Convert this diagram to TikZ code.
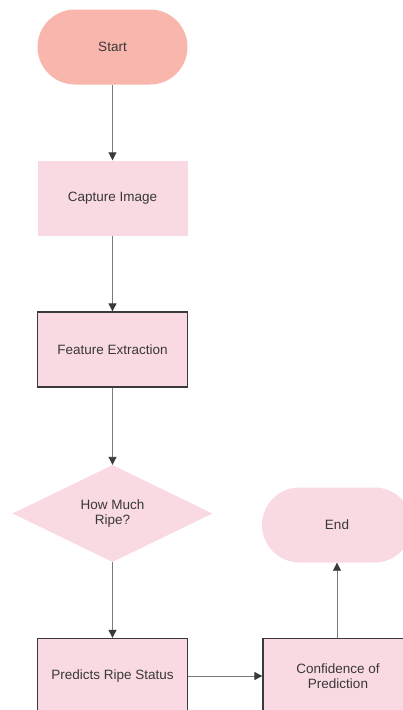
\documentclass[tikz,border=0pt]{standalone}
\usepackage{fontspec}
\setmainfont{Liberation Sans}
\usetikzlibrary{shapes.geometric,arrows.meta}
\definecolor{salmon}{HTML}{F9B6AC}
\definecolor{pinkfill}{HTML}{FADAE2}
\definecolor{txt}{HTML}{383838}
\definecolor{linegray}{HTML}{7A7A7A}
\definecolor{bordergray}{HTML}{3A3A3A}
\tikzset{
  base/.style={minimum width=150pt, minimum height=75pt, inner sep=2pt, align=center,
    text=txt, font=\fontsize{13.5}{15}\selectfont},
  term/.style={base, rounded corners=37.5pt},
  plainbox/.style={base, fill=pinkfill},
  borderbox/.style={base, fill=pinkfill, draw=bordergray, line width=1.3pt},
  decision/.style={diamond, fill=pinkfill, minimum width=200pt, minimum height=97pt,
    inner sep=0pt, align=center, text=txt, font=\fontsize{13.5}{15}\selectfont},
  conn/.style={draw=linegray, line width=0.9pt, -{Triangle[length=8pt,width=8pt,color=bordergray]}}
}
\begin{document}
\begin{tikzpicture}[x=1pt,y=-1pt]
\useasboundingbox (0,0) rectangle (403,710);
\clip (0,0) rectangle (403,710);
\node[term, fill=salmon] (start) at (112.5,47) {Start};
\node[plainbox] (capture) at (112.5,198) {Capture Image};
\node[borderbox] (feature) at (112.5,349.5) {Feature Extraction};
\node[decision] (ripe) at (112.5,513.5) {How Much\\Ripe?};
\node[borderbox] (predict) at (112.5,676) {Predicts Ripe Status};
\node[borderbox] (conf) at (338,676) {Confidence of\\Prediction};
\node[term, fill=pinkfill] (end) at (337,525) {End};
\draw[conn] (start) -- (capture);
\draw[conn] (capture) -- (feature);
\draw[conn] (feature) -- (ripe);
\draw[conn] (ripe) -- (predict);
\draw[conn] (predict) -- (conf);
\draw[conn] (conf.north -| end.south) -- (end.south);
\end{tikzpicture}
\end{document}
